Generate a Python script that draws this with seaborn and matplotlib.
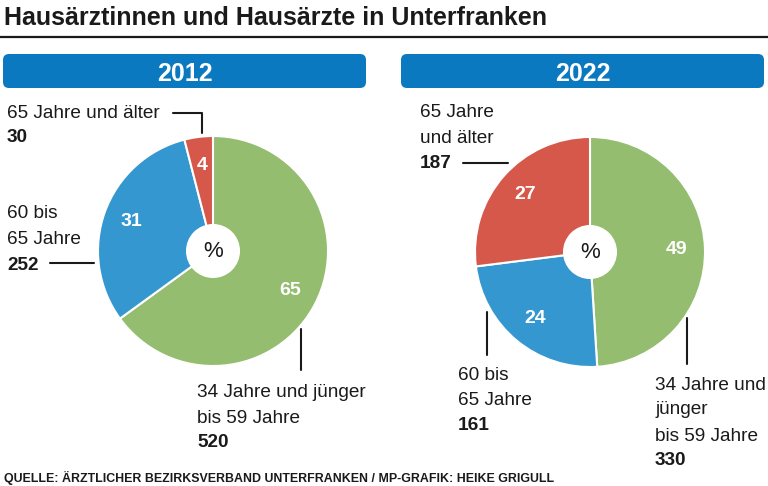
import matplotlib
matplotlib.use("Agg")
import matplotlib.pyplot as plt
from matplotlib.patches import FancyBboxPatch, Circle
import seaborn as sns

# data
YEARS = ["2012", "2022"]
GROUPS = ["34 Jahre und jünger bis 59 Jahre", "60 bis 65 Jahre", "65 Jahre und älter"]
PCT_2012 = [65, 31, 4]
PCT_2022 = [49, 24, 27]
N_2012 = [520, 252, 30]
N_2022 = [330, 161, 187]
COLORS = ["#94bd6f", "#3597d0", "#d5584a"]

TITLE = "Hausärztinnen und Hausärzte in Unterfranken"
SOURCE = "QUELLE: ÄRZTLICHER BEZIRKSVERBAND UNTERFRANKEN / MP-GRAFIK: HEIKE GRIGULL"

sns.set_theme(style="white")
plt.rcParams["font.family"] = ["Liberation Sans", "DejaVu Sans"]

W, H = 768, 486
fig = plt.figure(figsize=(W / 100, H / 100), dpi=100)
fig.patch.set_facecolor("white")

# overlay axes in pixel coords
ov = fig.add_axes([0, 0, 1, 1])
ov.set_xlim(0, W)
ov.set_ylim(H, 0)
ov.axis("off")

ov.text(4, 25, TITLE, fontsize=18, fontweight="bold", color="#1a1a1a", va="baseline")
ov.plot([0, W], [37, 37], color="#1a1a1a", lw=1.6)
ov.text(4, 482, SOURCE, fontsize=8.9, fontweight="bold", color="#1a1a1a", va="baseline")

# year banners
for year, (x0, x1) in zip(YEARS, [(3, 366), (401, 764)]):
    ov.add_patch(FancyBboxPatch((x0 + 6, 54 + 6), x1 - x0 - 12, 34 - 12,
                                boxstyle="round,pad=6", fc="#0b79bf", ec="none"))
    ov.text((x0 + x1) / 2, 81, year, fontsize=18, fontweight="bold",
            color="white", ha="center", va="baseline")

R = 115
centers = [(213, 251), (590, 252)]


def draw_pie(pct, cx, cy):
    ax = fig.add_axes([(cx - R) / W, (H - cy - R) / H, 2 * R / W, 2 * R / H])
    ax.pie(
        pct, colors=COLORS, startangle=90, counterclock=False,
        autopct=lambda p: f"{p:.0f}", pctdistance=0.75,
        wedgeprops=dict(edgecolor="white", linewidth=1.5),
        textprops=dict(color="white", fontsize=14, fontweight="bold"))
    ax.add_patch(Circle((0, 0), 0.235, fc="white", ec="none", zorder=5))
    ax.text(0, 0, "%", ha="center", va="center", fontsize=16, color="#1a1a1a", zorder=6)
    ax.set_xlim(-1, 1)
    ax.set_ylim(-1, 1)
    ax.axis("off")


draw_pie(PCT_2012, *centers[0])
draw_pie(PCT_2022, *centers[1])


def label(x, ys, lines, num):
    for y, ln in zip(ys[:-1], lines):
        ov.text(x, y, ln, fontsize=13.7, color="#1a1a1a", va="baseline")
    ov.text(x, ys[-1], str(num), fontsize=13.7, fontweight="bold", color="#1a1a1a", va="baseline")


lc = dict(color="#1a1a1a", lw=1.5)

# 2012 labels
label(7, [118, 142], ["65 Jahre und älter"], N_2012[2])
ov.plot([173, 202, 202], [113, 113, 133], **lc)
label(7, [218, 244, 270], ["60 bis", "65 Jahre"], N_2012[1])
ov.plot([50, 94], [263, 263], **lc)
label(197, [397, 423, 447], ["34 Jahre und jünger", "bis 59 Jahre"], N_2012[0])
ov.plot([301, 301], [329, 370], **lc)

# 2022 labels
label(420, [117, 143, 168], ["65 Jahre", "und älter"], N_2022[2])
ov.plot([463, 508], [163, 163], **lc)
label(458, [380, 405, 430], ["60 bis", "65 Jahre"], N_2022[1])
ov.plot([487, 487], [312, 355], **lc)
label(655, [390, 414, 441, 465], ["34 Jahre und", "jünger", "bis 59 Jahre"], N_2022[0])
ov.plot([687, 687], [318, 364], **lc)

fig.savefig("out.png", dpi=100, facecolor="white")
